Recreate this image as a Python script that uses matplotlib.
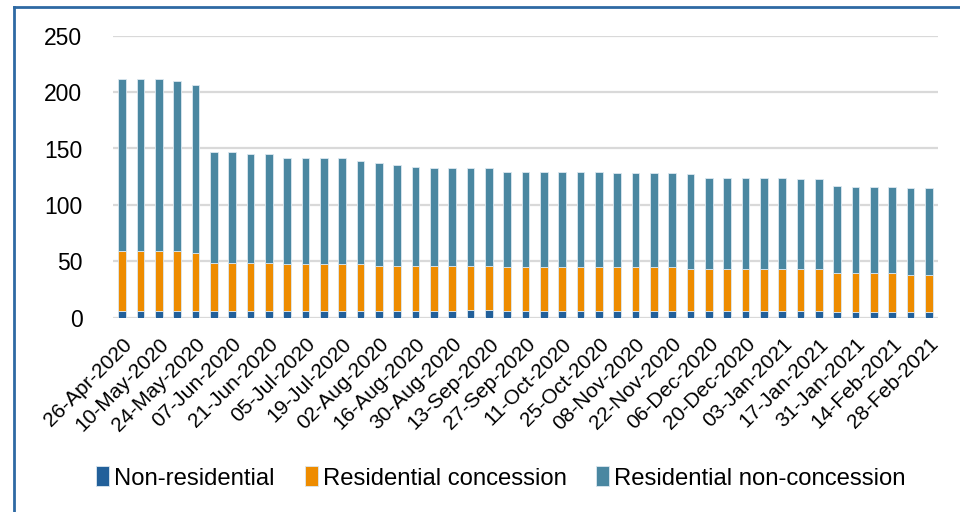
import matplotlib
matplotlib.use("Agg")
import matplotlib.pyplot as plt
from matplotlib.lines import Line2D
import numpy as np

plt.rcParams['font.family'] = ['Liberation Sans', 'DejaVu Sans']

weeks = ["26-Apr-2020", "03-May-2020", "10-May-2020", "17-May-2020", "24-May-2020",
         "31-May-2020", "07-Jun-2020", "14-Jun-2020", "21-Jun-2020", "28-Jun-2020",
         "05-Jul-2020", "12-Jul-2020", "19-Jul-2020", "26-Jul-2020", "02-Aug-2020",
         "09-Aug-2020", "16-Aug-2020", "23-Aug-2020", "30-Aug-2020", "06-Sep-2020",
         "13-Sep-2020", "20-Sep-2020", "27-Sep-2020", "04-Oct-2020", "11-Oct-2020",
         "18-Oct-2020", "25-Oct-2020", "01-Nov-2020", "08-Nov-2020", "15-Nov-2020",
         "22-Nov-2020", "29-Nov-2020", "06-Dec-2020", "13-Dec-2020", "20-Dec-2020",
         "27-Dec-2020", "03-Jan-2021", "10-Jan-2021", "17-Jan-2021", "24-Jan-2021",
         "31-Jan-2021", "07-Feb-2021", "14-Feb-2021", "21-Feb-2021", "28-Feb-2021"]

non_residential = [6, 6, 6, 6, 6, 6, 6, 6, 6, 6,
                   6, 6, 6, 6, 6, 6, 6, 6, 6, 7,
                   7, 6, 6, 6, 6, 6, 6, 6, 6, 6,
                   6, 6, 6, 6, 6, 6, 6, 6, 6, 5,
                   5, 5, 5, 5, 5]

residential_concession = [53, 53, 53, 53, 51, 42.5, 42.5, 42.5, 42.5, 41.5,
                          41.5, 41.5, 41.5, 41.5, 40, 40, 40, 40, 40, 39,
                          39, 39, 39, 39, 39, 39, 39, 39, 39, 39,
                          39, 37.5, 37, 37, 37, 37, 37, 37, 37, 35,
                          35, 35, 35, 33, 33]

residential_non_concession = [153, 153, 153, 151, 149, 98.5, 98.5, 96.5, 96.5, 94.5,
                              94.5, 94.5, 94.5, 91.5, 91, 89, 88, 87, 87, 87,
                              87, 84, 84, 84, 84, 84, 84, 83, 83, 83,
                              83, 83.5, 81, 81, 81, 81, 81, 80, 80, 77,
                              76, 76, 76, 77, 77]

y_ticks = [0, 50, 100, 150, 200, 250]

c_nonres = "#22609A"
c_conc = "#EE8C00"
c_nonconc = "#4A87A1"

fig = plt.figure(figsize=(9.6, 5.12), dpi=100)
ax = fig.add_axes([113/960, (512-317.7)/512, (938-113)/960, (317.7-35.7)/512])

x = np.arange(len(weeks))
nr = np.array(non_residential)
rc = np.array(residential_concession)
rn = np.array(residential_non_concession)
w = 0.42
ek = dict(edgecolor="#dce8f0", linewidth=0.6, zorder=3)
ax.bar(x, nr, w, color=c_nonres, label="Non-residential", **ek)
ax.bar(x, rc, w, bottom=nr, color=c_conc, label="Residential concession", **ek)
ax.bar(x, rn, w, bottom=nr + rc, color=c_nonconc, label="Residential non-concession", **ek)

ax.set_xlim(-0.5, len(weeks) - 0.5)
ax.set_ylim(0, 250)
ax.set_yticks(y_ticks)
ax.set_yticklabels([str(v) for v in y_ticks], fontsize=16.5)
ax.yaxis.grid(True, color="#d9d9d9", linewidth=1.6, zorder=0)
ax.set_axisbelow(True)
for s in ax.spines.values():
    s.set_visible(False)
ax.tick_params(axis="y", length=0, pad=22)
ax.tick_params(axis="x", length=0, pad=12)
ax.set_xticks(x[::2])
ax.set_xticklabels(weeks[::2], rotation=45, ha="right", va="top",
                   rotation_mode="anchor", fontsize=15)

leg = fig.legend(loc="center", bbox_to_anchor=(501/960, (512-478)/512), ncol=3,
                 frameon=False, fontsize=17.2, handlelength=0.55, handleheight=0.9,
                 handletextpad=0.2, columnspacing=1.25)

# outer blue border
fig.add_artist(Line2D([13.5/960, 1.0], [1 - 6.5/512, 1 - 6.5/512],
                      transform=fig.transFigure, color="#2E69A3", linewidth=2))
fig.add_artist(Line2D([13.5/960, 13.5/960], [0, 1 - 6.5/512],
                      transform=fig.transFigure, color="#2E69A3", linewidth=2))

fig.savefig("out.png", dpi=100)
